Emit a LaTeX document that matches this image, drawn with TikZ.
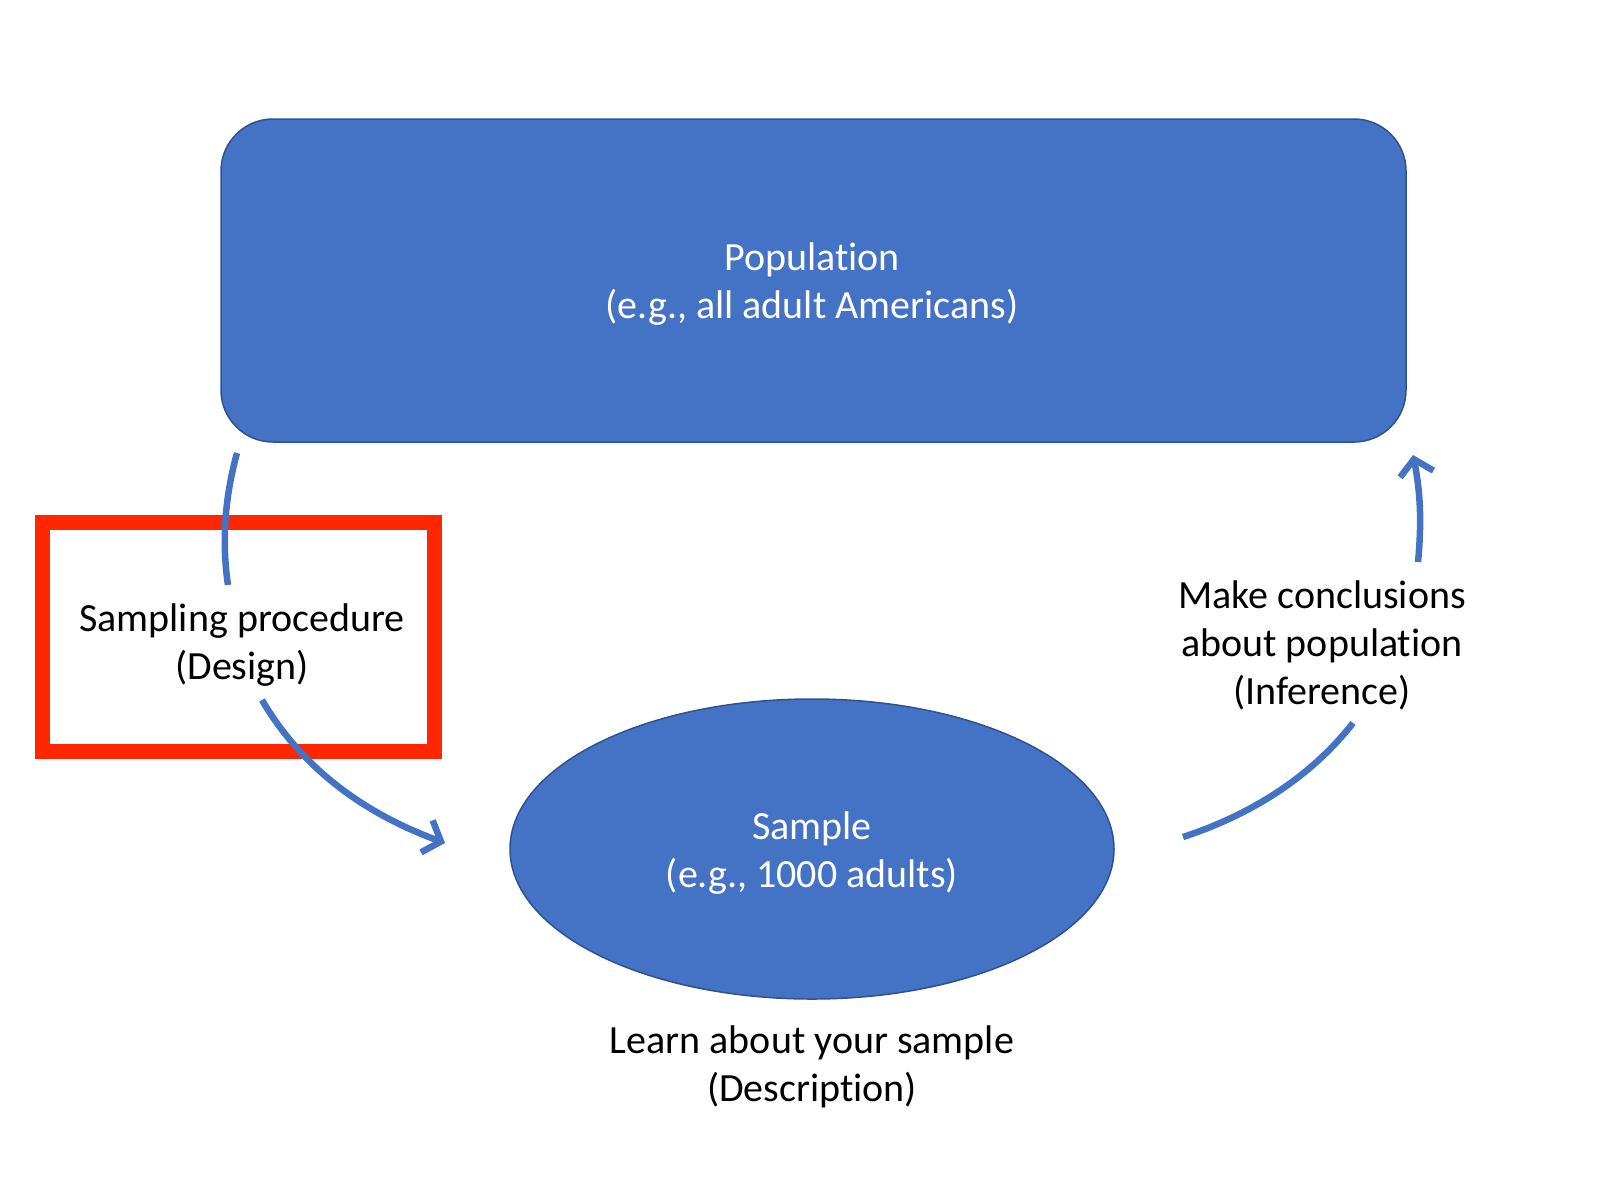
\documentclass[tikz,border=0pt]{standalone}
\usepackage{fontspec}
\setmainfont{Carlito}[Ligatures=NoCommon]
\usetikzlibrary{arrows.meta,shapes.geometric}
\definecolor{offblue}{HTML}{4472C4}
\definecolor{offborder}{HTML}{2F528F}
\definecolor{hired}{RGB}{255,38,0}
\begin{document}
\begin{tikzpicture}[x=1pt,y=-1pt,
  lbl/.style={font=\fontsize{40}{48}\selectfont, align=center, inner sep=0pt},
  wlbl/.style={lbl, text=white},
  conn/.style={draw=offblue, line width=6.5pt},
  tip/.style={-{Straight Barb[length=15pt,width=34pt,line width=6.5pt]}}]
\useasboundingbox (0,0) rectangle (1600,1200);
\node[draw=offborder, line width=1.5pt, fill=offblue, rounded corners=52pt,
      minimum width=1185pt, minimum height=323pt] (pop) at (813.5,280.5) {};
\node[wlbl] (poptext) at (812,284) {Population\\(e.g., all adult Americans)};
\node[ellipse, draw=offborder, line width=1.5pt, fill=offblue,
      minimum width=604pt, minimum height=300pt, inner sep=0pt] (samp) at (812,849) {};
\node[wlbl] (samptext) at (812,853) {Sample\\(e.g., 1000 adults)};
\node[lbl] (desc) at (812,1067) {Learn about your sample\\(Description)};
\node[lbl] (design) at (242,645) {Sampling procedure\\(Design)};
\node[lbl] (infer) at (1322,645) {Make conclusions\\about population\\(Inference)};
\node[draw=hired, line width=15pt, minimum width=392pt, minimum height=229pt, inner sep=0pt] (redbox) at (238,637) {};
\coordinate (a1) at (237,453);
\coordinate (a2) at (228,585);
\coordinate (a3) at (262,700);
\coordinate (a4) at (445,843);
\coordinate (b1) at (1183,837);
\coordinate (b2) at (1353,723);
\coordinate (b3) at (1418,562);
\coordinate (b4) at (1413,455);
\draw[conn] (a1) .. controls (224,500) and (222,545) .. (a2);
\draw[conn, tip] (a3) .. controls (300,765) and (360,812) .. (a4);
\draw[conn] (b1) .. controls (1250,815) and (1310,778) .. (b2);
\draw[conn, tip] (b3) .. controls (1422,520) and (1420,490) .. (b4);
\end{tikzpicture}
\end{document}
